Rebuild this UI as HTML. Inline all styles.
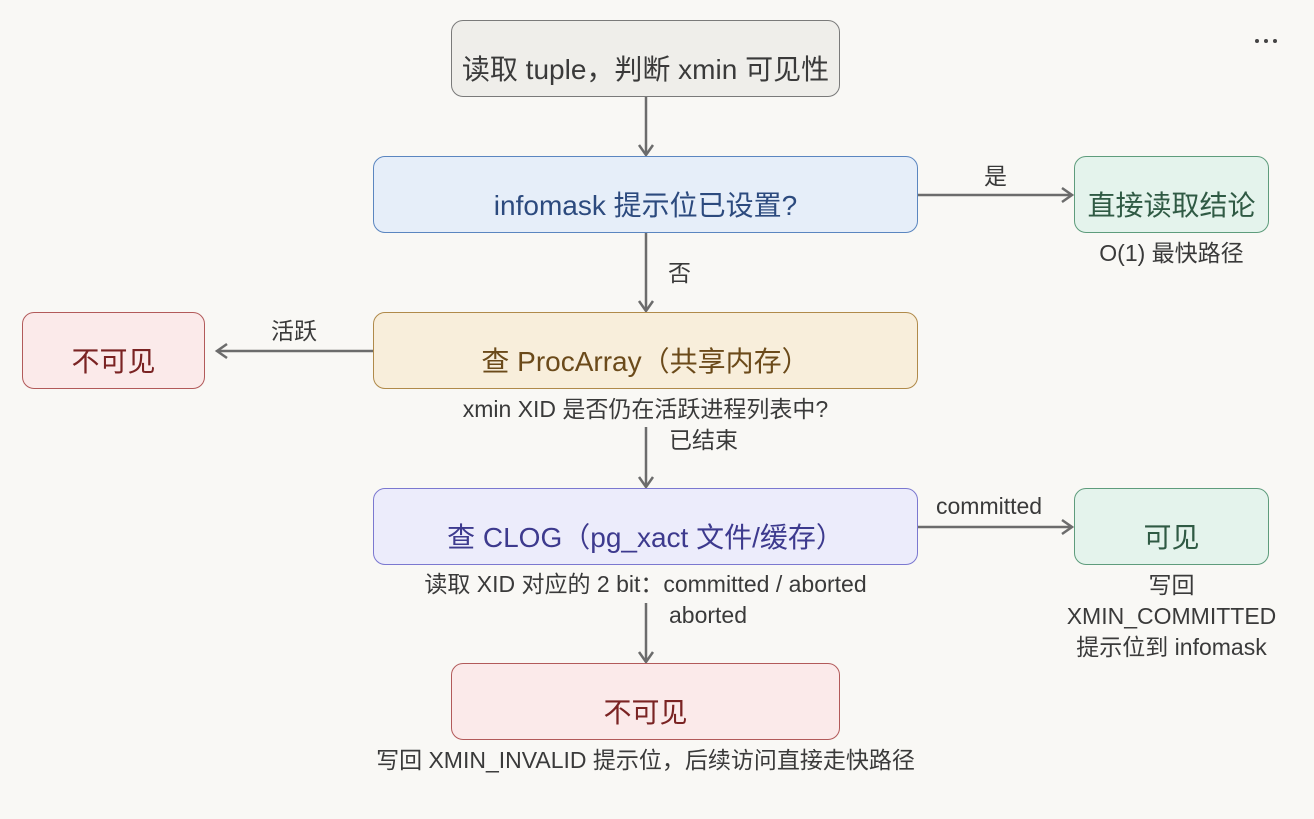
<!DOCTYPE html>
<html><head><meta charset="utf-8"><style>
body{margin:0;width:1314px;height:819px;background:#f9f8f5;position:relative;overflow:hidden;font-family:"Liberation Sans","Noto Sans CJK SC",sans-serif}
.b{position:absolute;box-sizing:border-box;border:1px solid;border-radius:12px;display:flex;align-items:center;justify-content:center;font-size:28px;padding-top:18px}
.t{position:absolute;font-size:23px;line-height:28px;color:#3a3a3a;white-space:nowrap;text-align:center}
.g{background:#e4f3ec;border-color:#5e9c7c;color:#2f5a44}
.r{background:#fbeaea;border-color:#b25a5a;color:#7a2323}
</style></head><body>
<svg style="position:absolute;left:0;top:0" width="1314" height="819">
<g stroke="#6c6c6c" stroke-width="2.5" fill="none">
<line x1="646" y1="97" x2="646" y2="155"/><polyline points="639,145 646,155 653,145"/>
<line x1="646" y1="233" x2="646" y2="311"/><polyline points="639,301 646,311 653,301"/>
<line x1="918" y1="195" x2="1072" y2="195"/><polyline points="1062,188 1072,195 1062,202"/>
<line x1="373" y1="351" x2="217" y2="351"/><polyline points="227,344 217,351 227,358"/>
<line x1="646" y1="427" x2="646" y2="487"/><polyline points="639,477 646,487 653,477"/>
<line x1="918" y1="527" x2="1072" y2="527"/><polyline points="1062,520 1072,527 1062,534"/>
<line x1="646" y1="603" x2="646" y2="662"/><polyline points="639,652 646,662 653,652"/>
</g>
<g fill="#444"><circle cx="1257" cy="41" r="2"/><circle cx="1266" cy="41" r="2"/><circle cx="1275" cy="41" r="2"/></g>
</svg>
<div class="b" style="left:451px;top:20px;width:389px;height:77px;background:#efeeea;border-color:#7a7a7a;color:#3a3a3a">读取 tuple，判断 xmin 可见性</div>
<div class="b" style="left:373px;top:156px;width:545px;height:77px;background:#e6eef9;border-color:#5b86c0;color:#2c4a7e">infomask 提示位已设置?</div>
<div class="b g" style="left:1074px;top:156px;width:195px;height:77px">直接读取结论</div>
<div class="b r" style="left:22px;top:312px;width:183px;height:77px">不可见</div>
<div class="b" style="left:373px;top:312px;width:545px;height:77px;background:#f8eedb;border-color:#b08a4a;color:#6b4a1a">查 ProcArray（共享内存）</div>
<div class="b" style="left:373px;top:488px;width:545px;height:77px;background:#ececfb;border-color:#7b78d0;color:#3d3a8e">查 CLOG（pg_xact 文件/缓存）</div>
<div class="b g" style="left:1074px;top:488px;width:195px;height:77px">可见</div>
<div class="b r" style="left:451px;top:663px;width:389px;height:77px">不可见</div>
<div class="t" style="left:984px;top:162px">是</div>
<div class="t" style="left:1074px;top:239px;width:195px">O(1) 最快路径</div>
<div class="t" style="left:668px;top:259px">否</div>
<div class="t" style="left:271px;top:317px">活跃</div>
<div class="t" style="left:373px;top:395px;width:545px">xmin XID 是否仍在活跃进程列表中?</div>
<div class="t" style="left:669px;top:426px">已结束</div>
<div class="t" style="left:936px;top:492px">committed</div>
<div class="t" style="left:373px;top:570px;width:545px">读取 XID 对应的 2 bit：committed / aborted</div>
<div class="t" style="left:669px;top:601px">aborted</div>
<div class="t" style="left:1040px;top:570px;width:263px;line-height:31px">写回<br>XMIN_COMMITTED<br>提示位到 infomask</div>
<div class="t" style="left:300px;top:746px;width:691px">写回 XMIN_INVALID 提示位，后续访问直接走快路径</div>
</body></html>
